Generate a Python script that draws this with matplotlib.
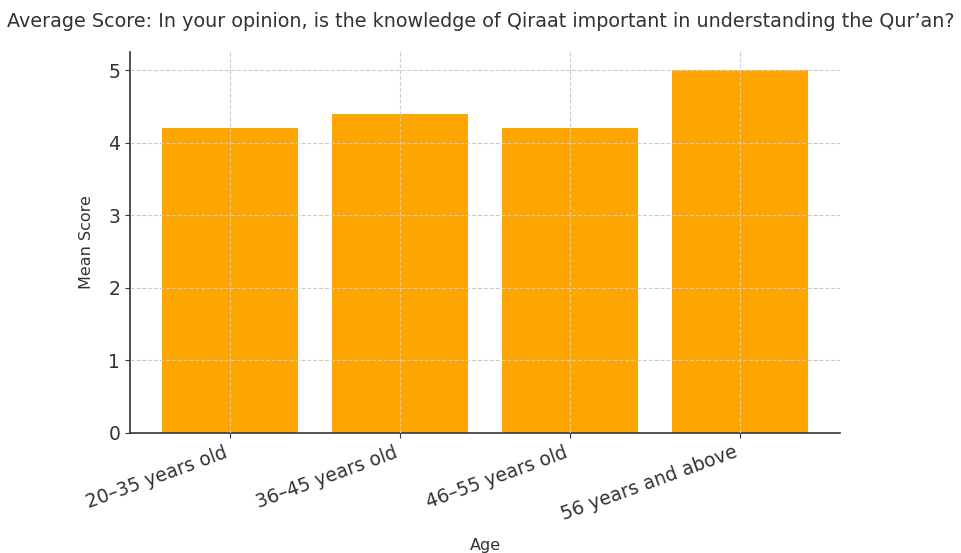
import matplotlib
matplotlib.use("Agg")
import matplotlib.pyplot as plt

# Survey results: mean score by age group
age_groups = ["20–35 years old", "36–45 years old", "46–55 years old", "56 years and above"]
mean_scores = [4.2, 4.4, 4.2, 5.0]

title_text = "Average Score: In your opinion, is the knowledge of Qiraat important in understanding the Qur’an?"

fig = plt.figure(figsize=(9.61, 5.53), dpi=100)
ax = fig.add_axes([0.1353, 0.217, 0.7387, 0.689])

ax.bar(age_groups, mean_scores, color="#FFA500", width=0.8)
ax.grid(True, linestyle="--", color="#cccccc", linewidth=0.8)
ax.set_axisbelow(False)
ax.set_ylim(0, 5.25)

for side in ("top", "right"):
    ax.spines[side].set_visible(False)
for side in ("left", "bottom"):
    ax.spines[side].set_color("#333333")
    ax.spines[side].set_linewidth(1.2)

ax.tick_params(axis="both", labelsize=13.5, colors="#333333", labelcolor="#333333")
plt.setp(ax.get_xticklabels(), rotation=20, ha="right", rotation_mode="default")

ax.set_ylabel("Mean Score", fontsize=11.5, color="#333333", labelpad=10)
ax.set_xlabel("Age", fontsize=11.5, color="#333333", labelpad=10)
fig.text(0.5, 0.962, title_text, ha="center", va="center", fontsize=13.8, color="#333333")

fig.savefig("out.png", dpi=100)
